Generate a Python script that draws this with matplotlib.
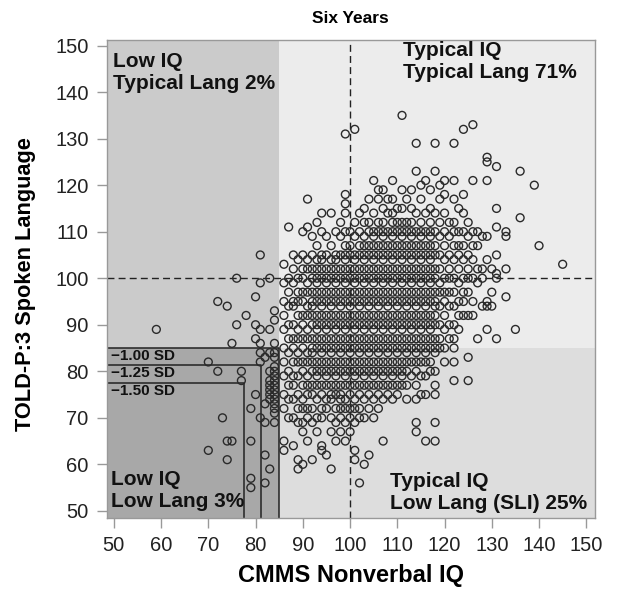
import matplotlib
matplotlib.use("Agg")
import matplotlib.pyplot as plt
from matplotlib.patches import Rectangle

plt.rcParams['font.family'] = ['Liberation Sans', 'DejaVu Sans']

# ---------------- data ----------------
# Typical-IQ children: TOLD-P:3 scores listed per CMMS score column
told_by_cmms = {
    86: [103, 99, 95, 92, 89, 85, 82, 79, 75, 72, 65, 63],
    87: [111, 100, 97, 94, 90, 87, 84, 80, 77, 74, 70],
    88: [105, 102, 99, 95, 94, 90, 87, 85, 82, 79, 77, 74, 70, 64],
    89: [104, 100, 97, 95, 92, 89, 87, 84, 82, 79, 75, 72, 69, 61, 59],
    90: [110, 105, 102, 100, 97, 95, 92, 90, 87, 85, 82, 80, 77, 74, 72, 69, 67, 60],
    91: [117, 111, 104, 102, 99, 97, 94, 92, 89, 87, 84, 82, 79, 77, 75, 72, 70, 65],
    92: [109, 105, 102, 100, 97, 95, 94, 92, 90, 87, 85, 84, 82, 80, 77, 75, 72, 69, 61],
    93: [112, 107, 104, 102, 100, 99, 97, 95, 92, 90, 89, 87, 85, 82, 80, 79, 77, 74, 70, 67],
    94: [114, 110, 105, 104, 102, 100, 97, 95, 94, 92, 90, 87, 85, 84, 82, 80, 77, 75, 72, 70, 64, 63],
    95: [109, 105, 102, 100, 99, 97, 95, 92, 90, 89, 87, 85, 82, 80, 79, 77, 74, 72, 62],
    96: [114, 107, 104, 102, 100, 97, 95, 94, 92, 90, 87, 85, 84, 82, 80, 77, 75, 74, 70, 67, 59],
    97: [110, 105, 104, 102, 100, 99, 97, 95, 92, 90, 89, 87, 85, 82, 80, 79, 77, 75, 72, 69, 65],
    98: [112, 109, 105, 102, 100, 97, 95, 94, 92, 90, 87, 85, 84, 82, 80, 77, 75, 74, 72, 70, 67],
    99: [131, 118, 116, 114, 110, 107, 105, 104, 102, 100, 99, 97, 95, 92, 90, 89, 87, 85, 82, 80, 79, 77, 74, 72, 69, 65],
    100: [110, 107, 105, 102, 100, 97, 95, 94, 92, 90, 87, 85, 84, 82, 80, 77, 75, 72, 70, 67],
    101: [132, 112, 109, 105, 104, 102, 100, 99, 97, 95, 92, 90, 89, 87, 85, 82, 80, 79, 77, 74, 72, 69, 63, 61],
    102: [114, 110, 107, 105, 102, 100, 97, 95, 94, 92, 90, 87, 85, 84, 82, 80, 77, 75, 72, 70, 56],
    103: [115, 112, 109, 107, 105, 104, 102, 100, 99, 97, 95, 92, 90, 89, 87, 85, 82, 80, 79, 77, 74, 70, 60],
    104: [117, 112, 110, 107, 105, 102, 100, 97, 95, 94, 92, 90, 87, 85, 84, 82, 80, 77, 75, 72, 62],
    105: [121, 114, 110, 109, 107, 105, 104, 102, 100, 99, 97, 95, 92, 90, 89, 87, 85, 82, 80, 79, 77, 74, 70],
    106: [119, 117, 112, 110, 107, 105, 102, 100, 97, 95, 94, 92, 90, 87, 85, 84, 82, 80, 77, 75, 72],
    107: [119, 115, 112, 110, 109, 107, 105, 104, 102, 100, 99, 97, 95, 92, 90, 89, 87, 85, 82, 80, 79, 77, 74, 65],
    108: [117, 114, 110, 107, 105, 102, 100, 97, 95, 94, 92, 90, 87, 85, 84, 82, 80, 77, 75],
    109: [121, 117, 114, 112, 110, 109, 107, 105, 104, 102, 100, 99, 97, 95, 92, 90, 89, 87, 85, 82, 80, 79, 77, 74],
    110: [115, 112, 110, 107, 105, 102, 100, 97, 95, 94, 92, 90, 87, 85, 84, 82, 80, 77, 75],
    111: [135, 119, 115, 112, 110, 109, 107, 105, 104, 102, 100, 99, 97, 95, 92, 90, 89, 87, 85, 82, 80, 79, 77],
    112: [117, 112, 110, 107, 105, 102, 100, 97, 95, 94, 92, 90, 87, 85, 84, 82, 80, 77, 74],
    113: [119, 115, 112, 110, 109, 107, 105, 104, 102, 100, 99, 97, 95, 92, 90, 89, 87, 85, 82, 79],
    114: [129, 123, 114, 110, 107, 105, 102, 100, 97, 95, 94, 92, 90, 87, 85, 84, 82, 80, 77, 74, 69, 67],
    115: [120, 117, 112, 110, 109, 107, 105, 104, 102, 100, 99, 97, 95, 92, 90, 89, 87, 85, 82, 79, 75],
    116: [121, 114, 110, 107, 105, 102, 100, 97, 95, 94, 92, 90, 87, 85, 84, 82, 79, 75, 65],
    117: [119, 115, 112, 110, 109, 107, 105, 104, 102, 100, 99, 97, 95, 92, 90, 89, 87, 85, 82, 80],
    118: [129, 123, 114, 110, 107, 105, 102, 100, 97, 95, 94, 92, 90, 87, 85, 84, 80, 77, 75, 69, 65],
    119: [120, 117, 112, 109, 105, 102, 99, 97, 94, 90, 87, 85],
    120: [121, 118, 114, 110, 107, 104, 100, 97, 95, 92, 89, 85, 82],
    121: [112, 109, 105, 102, 100, 97, 94, 90, 87],
    122: [129, 121, 117, 112, 110, 107, 104, 100, 97, 94, 90, 87, 85, 82, 78],
    123: [115, 110, 107, 105, 102, 99, 95, 92, 89],
    124: [132, 118, 114, 110, 107, 104, 100, 97, 95, 92],
    125: [112, 109, 105, 102, 100, 97, 92, 83, 78],
    126: [133, 121, 110, 107, 104, 100, 95, 92],
    127: [110, 107, 102, 99, 87],
    128: [109, 102, 100, 94],
    129: [126, 125, 121, 109, 104, 95, 94, 89],
    130: [102, 97, 94],
    131: [124, 115, 111, 105, 101, 100, 87],
    133: [110, 109, 102, 96],
    135: [89],
    136: [123, 113],
    139: [120],
    140: [107],
    145: [103],
}

# Low-IQ children (CMMS < 85)
low_iq_cmms = [59, 72, 74, 76, 81, 81, 83, 80, 78, 76, 80, 81, 83, 84, 84, 75, 80, 81, 84,
               70, 72, 77, 77, 80, 79, 73, 81, 82, 74, 75, 79, 70, 74, 82, 83, 82, 79, 79,
               84, 84, 84, 84, 84, 84, 84, 84, 84, 84, 84, 84, 84, 84,
               83, 83, 83, 83, 83, 83, 82, 81, 82, 83, 81]
low_iq_told = [89, 95, 94, 100, 105, 99, 100, 96, 92, 90, 90, 89, 89, 91, 93, 86, 87, 86, 86,
               82, 80, 80, 78, 75, 72, 70, 70, 69, 65, 65, 65, 63, 61, 62, 59, 56, 57, 55,
               84, 83, 81, 80, 79, 78, 77, 76, 75, 74, 73, 72, 71, 69,
               80, 78, 77, 76, 75, 74, 73, 84, 83, 84, 82]

cutoffs = [85, 81.25, 77.5]
cutoff_labels = ["\u22121.00 SD", "\u22121.25 SD", "\u22121.50 SD"]
quadrant_texts = ["Low IQ\nTypical Lang 2%", "Typical IQ\nTypical Lang 71%",
                  "Low IQ\nLow Lang 3%", "Typical IQ\nLow Lang (SLI) 25%"]
x_ticks = [50, 60, 70, 80, 90, 100, 110, 120, 130, 140, 150]
y_ticks = [50, 60, 70, 80, 90, 100, 110, 120, 130, 140, 150]

# ---------------- figure ----------------
fig = plt.figure(figsize=(6.17, 5.90), dpi=100)
ax = fig.add_axes([0.173, 0.1215, 0.791, 0.8107])
xmin, xmax = 48.5, 151.8
ymin, ymax = 48.4, 151.2
ax.set_xlim(xmin, xmax)
ax.set_ylim(ymin, ymax)

cut = cutoffs[0]
ax.add_patch(Rectangle((xmin, cut), cut - xmin, ymax - cut, facecolor='#cbcbcb', edgecolor='none', zorder=0))
ax.add_patch(Rectangle((cut, cut), xmax - cut, ymax - cut, facecolor='#ececec', edgecolor='none', zorder=0))
ax.add_patch(Rectangle((cut, ymin), xmax - cut, cut - ymin, facecolor='#dddddd', edgecolor='none', zorder=0))
ax.add_patch(Rectangle((xmin, ymin), cut - xmin, cut - ymin, facecolor='#a8a8a8', edgecolor='none', zorder=0))

# SD cutoff boxes
for c, lab in zip(cutoffs, cutoff_labels):
    ax.plot([xmin, c, c], [c, c, ymin], color='#222222', lw=1.1, zorder=1)
    ax.text(xmin + 1.0, c - 0.2, lab, fontsize=11, fontweight='bold', color='#111111',
            ha='left', va='top', zorder=4)

# reference lines at the mean
ax.axhline(100, color='#222222', lw=1.0, ls=(0, (5, 3)), zorder=1)
ax.axvline(100, color='#222222', lw=1.0, ls=(0, (5, 3)), zorder=1)

# scatter
xs, ys = [], []
for cx, vals in told_by_cmms.items():
    for v in vals:
        xs.append(cx)
        ys.append(v)
xs += low_iq_cmms
ys += low_iq_told
ax.scatter(xs, ys, s=32, facecolors='none', edgecolors='#2a2a2a', linewidths=1.0, zorder=2)

# quadrant texts
tkw = dict(fontsize=15, fontweight='bold', color='#111111', linespacing=1.2, zorder=5)
ax.text(49.9, 148.6, quadrant_texts[0], ha='left', va='top', **tkw)
ax.text(111.2, 150.9, quadrant_texts[1], ha='left', va='top', **tkw)
ax.text(49.3, 49.9, quadrant_texts[2], ha='left', va='bottom', **tkw)
ax.text(108.4, 49.6, quadrant_texts[3], ha='left', va='bottom', **tkw)

ax.set_xticks(x_ticks)
ax.set_yticks(y_ticks)
ax.tick_params(axis='both', direction='out', length=7, width=1, color='#999999',
               labelsize=14.5, labelcolor='#222222', pad=6)
for s in ax.spines.values():
    s.set_color('#999999')
    s.set_linewidth(1.0)

ax.set_title("Six Years", fontsize=12.5, fontweight='bold', pad=12)
ax.set_xlabel("CMMS Nonverbal IQ", fontsize=17, fontweight='bold', labelpad=6)
ax.set_ylabel("TOLD-P:3 Spoken Language", fontsize=15.7, fontweight='bold')
ax.yaxis.set_label_coords(-0.145, 0.49)

fig.savefig("out.png", dpi=100, facecolor='white')
